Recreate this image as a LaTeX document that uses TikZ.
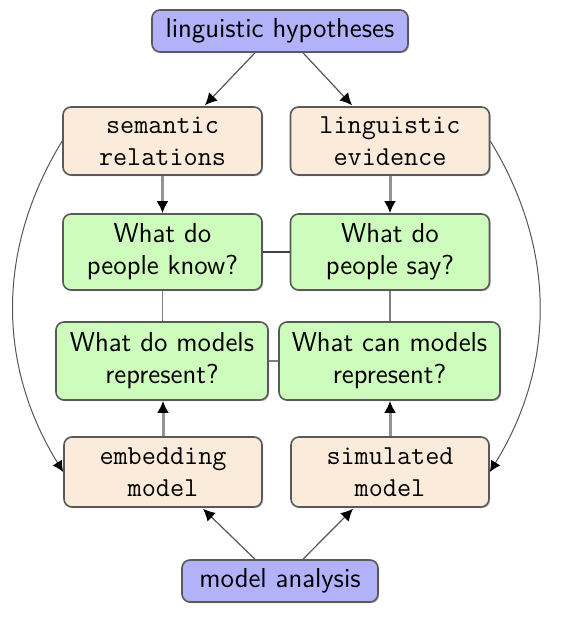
\documentclass[tikz,border=0pt]{standalone}
\usetikzlibrary{arrows.meta,calc,shadows}
\definecolor{boxblue}{RGB}{178,178,250}
\definecolor{boxpeach}{RGB}{250,235,218}
\definecolor{boxgreen}{RGB}{205,252,188}
\definecolor{edgegray}{RGB}{85,85,85}
\tikzset{
  basebox/.style={draw=black!65, line width=0.8pt, rounded corners=4pt, inner sep=3pt, align=center,
    drop shadow={shadow xshift=0.6pt, shadow yshift=-0.6pt, opacity=0.25, fill=black}},
  bluebox/.style={basebox, fill=boxblue, font=\fontsize{13.7}{16}\selectfont\sffamily, minimum height=21pt},
  peachbox/.style={basebox, fill=boxpeach, font=\fontsize{13.7}{16}\selectfont\ttfamily, minimum height=34pt, minimum width=99.5pt},
  greenbox/.style={basebox, fill=boxgreen, font=\fontsize{13.7}{16}\selectfont\sffamily, minimum height=38pt},
  varrow/.style={draw=gray!85, line width=1.5pt, -{Latex[length=6pt,width=6pt,black]}},
  diag/.style={draw=edgegray, line width=0.6pt, -{Latex[length=6pt,width=6pt,black]}},
  curvearrow/.style={draw=edgegray, line width=0.5pt, -{Latex[length=5.5pt,width=5.5pt,black]}},
  darklink/.style={draw=black!75, line width=0.7pt},
  graylink/.style={draw=black!50, line width=0.9pt},
}
\begin{document}
\begin{tikzpicture}[x=0.5pt,y=-0.5pt]
\useasboundingbox (0,0) rectangle (568,628);

\node[bluebox, minimum width=128pt] (hyp) at (280,31) {linguistic hypotheses};
\node[peachbox] (sem) at (162.5,141) {semantic\\relations};
\node[peachbox] (evi) at (390,141) {linguistic\\evidence};
\node[greenbox, minimum width=99.5pt] (know) at (162.5,252) {What do\\people know?};
\node[greenbox, minimum width=99.5pt] (say) at (390,252) {What do\\people say?};
\node[greenbox, minimum width=106pt, minimum height=39pt] (mrep) at (162,361) {What do models\\represent?};
\node[greenbox, minimum width=110.5pt, minimum height=39pt] (crep) at (389.5,361) {What can models\\represent?};
\node[peachbox, minimum height=35pt, minimum width=99pt] (emb) at (163,472) {embedding\\model};
\node[peachbox, minimum height=35pt, minimum width=99pt] (sim) at (390,472) {simulated\\model};
\node[bluebox, minimum width=98pt] (ana) at (280,581) {model analysis};

% diagonal arrows
\draw[diag] ($(hyp.south)+(-25,0)$) -- ($(sem.north)+(42.5,-1)$);
\draw[diag] ($(hyp.south)+(23,0)$) -- ($(evi.north)+(-38,-1)$);
\draw[diag] ($(ana.north)+(-25,0)$) -- ($(emb.south)+(40,1)$);
\draw[diag] ($(ana.north)+(23,0)$) -- ($(sim.south)+(-37,1)$);

% vertical arrows
\draw[varrow] (sem.south) -- (know.north);
\draw[varrow] (evi.south) -- (say.north);
\draw[varrow] (emb.north) -- (emb.north |- mrep.south);
\draw[varrow] (sim.north) -- (sim.north |- crep.south);

% links between questions
\draw[darklink] (know.east) -- (say.west);
\draw[graylink] (mrep.east) -- (crep.west);
\draw[graylink] (know.south) -- (know.south |- mrep.north);
\draw[graylink] (say.south) -- (say.south |- crep.north);

% outer curves
\draw[curvearrow] (sem.west) .. controls +(-66,108) and +(-66,-107) .. (emb.west);
\draw[curvearrow] (evi.east) .. controls +(66,108) and +(66,-107) .. (sim.east);
\end{tikzpicture}
\end{document}
